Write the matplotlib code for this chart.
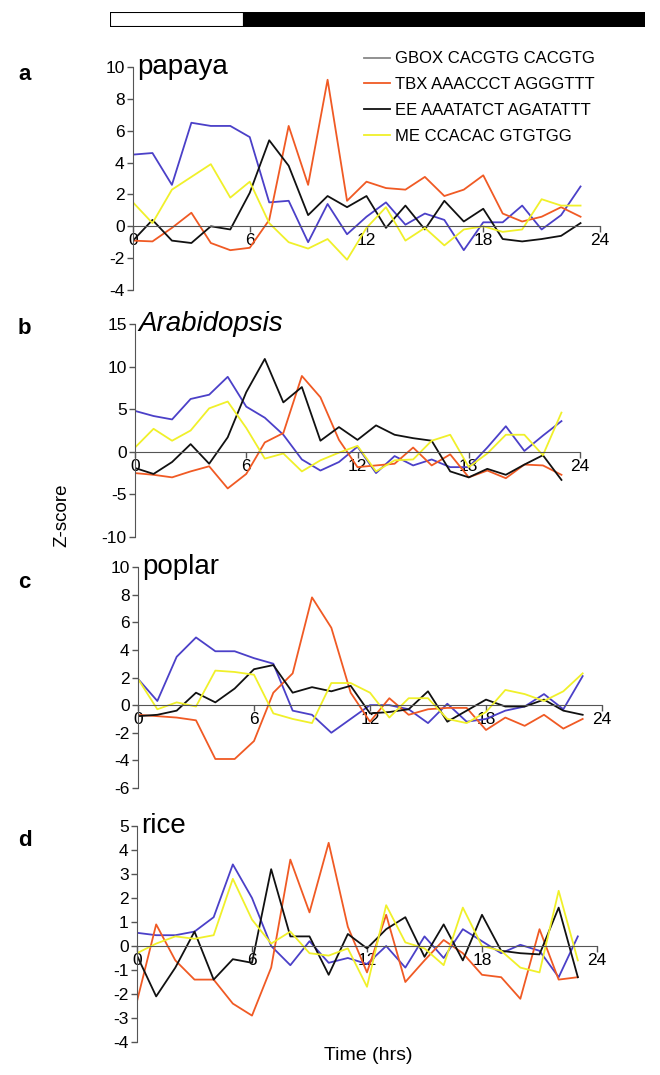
import numpy as np
import matplotlib
matplotlib.use("Agg")
from matplotlib import pyplot as plt
from matplotlib.lines import Line2D

plt.rcParams['font.family'] = ['Liberation Sans', 'DejaVu Sans']
plt.rcParams['axes.unicode_minus'] = False

hours = np.arange(24)
xticks = [0, 6, 12, 18, 24]

motifs = ["GBOX CACGTG CACGTG", "TBX AAACCCT AGGGTTT",
          "EE AAATATCT AGATATTT", "ME CCACAC GTGTGG"]
colors = ['#4b40c8', '#f05a24', '#111111', '#f0f02a']
legend_colors = ['#888888', '#f05a24', '#111111', '#f0f02a']

# papaya
papaya_gbox = [4.5, 4.6, 2.6, 6.5, 6.3, 6.3, 5.6, 1.5, 1.6, -1.0, 1.4, -0.5,
               0.6, 1.5, 0.1, 0.8, 0.4, -1.5, 0.25, 0.25, 1.3, -0.2, 0.7, 2.5]
papaya_tbx = [-0.9, -0.95, -0.1, 0.85, -1.05, -1.5, -1.35, 0.4, 6.3, 2.6, 9.2, 1.6,
              2.8, 2.4, 2.3, 3.1, 1.9, 2.3, 3.2, 0.8, 0.3, 0.6, 1.2, 0.6]
papaya_ee = [-0.9, 0.4, -0.9, -1.05, 0.0, -0.2, 2.1, 5.4, 3.8, 0.7, 1.9, 1.2,
             1.9, -0.1, 1.3, -0.2, 1.6, 0.3, 1.1, -0.8, -0.95, -0.8, -0.6, 0.2]
papaya_me = [1.5, 0.2, 2.3, 3.1, 3.9, 1.8, 2.8, 0.2, -1.0, -1.4, -0.8, -2.1,
             -0.1, 1.2, -0.9, -0.1, -1.2, -0.2, 0.0, -0.35, -0.2, 1.7, 1.3, 1.3]

# Arabidopsis
arab_gbox = [4.8, 4.2, 3.8, 6.2, 6.7, 8.8, 5.3, 4.0, 2.0, -0.9, -2.2, -1.2,
             0.6, -2.5, -0.5, -1.6, -0.9, -1.8, -1.8, 0.5, 3.0, 0.1, 1.9, 3.6]
arab_tbx = [-2.5, -2.7, -3.0, -2.3, -1.7, -4.3, -2.6, 1.1, 2.2, 8.9, 6.4, 1.4,
            -1.8, -1.6, -1.4, 0.5, -1.6, -0.3, -3.0, -2.2, -3.1, -1.5, -1.6, -2.7]
arab_ee = [-1.9, -2.6, -1.2, 0.9, -1.4, 1.7, 7.0, 10.9, 5.8, 7.6, 1.3, 2.9,
           1.4, 3.1, 2.0, 1.6, 1.3, -2.3, -3.0, -2.0, -2.7, -1.5, -0.4, -3.3]
arab_me = [0.5, 2.7, 1.3, 2.5, 5.1, 5.9, 2.8, -0.8, -0.2, -2.3, -1.0, -0.1,
           0.7, -2.3, -1.0, -0.9, 1.3, 2.0, -1.8, -0.2, 2.0, 2.0, -0.4, 4.6]

# poplar
poplar_gbox = [1.9, 0.3, 3.5, 4.9, 3.9, 3.9, 3.4, 3.0, -0.4, -0.7, -2.0, -1.0,
               0.0, 0.0, -0.3, -1.3, 0.1, -1.2, -1.0, -0.4, -0.1, 0.8, -0.3, 2.1]
poplar_tbx = [-0.7, -0.8, -0.9, -1.1, -3.9, -3.9, -2.6, 0.9, 2.3, 7.8, 5.6, 0.9,
              -1.2, 0.5, -0.7, -0.3, -0.2, -0.2, -1.8, -0.9, -1.5, -0.7, -1.7, -1.0]
poplar_ee = [-0.8, -0.7, -0.4, 0.9, 0.2, 1.2, 2.6, 2.9, 0.9, 1.3, 1.0, 1.4,
             -0.6, -0.5, -0.3, 1.0, -1.2, -0.4, 0.4, -0.1, -0.1, 0.4, -0.4, -0.7]
poplar_me = [1.9, -0.3, 0.2, -0.1, 2.5, 2.4, 2.2, -0.6, -1.0, -1.3, 1.6, 1.6,
             0.9, -0.9, 0.5, 0.5, -1.0, -1.3, -0.5, 1.1, 0.8, 0.3, 1.0, 2.3]

# rice
rice_gbox = [0.55, 0.45, 0.45, 0.6, 1.2, 3.4, 2.0, 0.0, -0.8, 0.2, -0.7, -0.5,
             -0.75, 0.0, -0.9, 0.4, -0.5, 0.7, 0.2, -0.3, 0.05, -0.2, -1.3, 0.4]
rice_tbx = [-2.3, 0.9, -0.6, -1.4, -1.4, -2.4, -2.9, -0.9, 3.6, 1.4, 4.3, 0.8,
            -1.1, 1.3, -1.5, -0.6, 0.25, -0.3, -1.2, -1.3, -2.2, 0.7, -1.4, -1.3]
rice_ee = [-0.4, -2.1, -0.9, 0.6, -1.4, -0.55, -0.7, 3.2, 0.4, 0.4, -1.2, 0.5,
           -0.1, 0.7, 1.2, -0.45, 0.9, -0.6, 1.3, -0.2, -0.3, -0.35, 1.6, -1.3]
rice_me = [-0.3, 0.1, 0.4, 0.3, 0.45, 2.8, 1.1, 0.1, 0.6, -0.3, -0.4, -0.1,
           -1.7, 1.7, 0.15, -0.1, -0.8, 1.6, 0.0, -0.2, -0.9, -1.1, 2.3, -0.6]

species = ["papaya", "Arabidopsis", "poplar", "rice"]
letters = ["a", "b", "c", "d"]
series = [
    [papaya_gbox, papaya_tbx, papaya_ee, papaya_me],
    [arab_gbox, arab_tbx, arab_ee, arab_me],
    [poplar_gbox, poplar_tbx, poplar_ee, poplar_me],
    [rice_gbox, rice_tbx, rice_ee, rice_me],
]
ylims = [(-4, 10), (-10, 15), (-6, 10), (-4, 5)]
ysteps = [2, 5, 2, 1]

W, H = 660, 1075
fig = plt.figure(figsize=(W / 100, H / 100), dpi=100)

# axes boxes in pixels: left, right, top, bottom
boxes = [(133, 600, 67, 290), (135, 580, 324, 537),
         (138, 602, 567, 788), (137, 597, 826, 1042)]
label_y = [75, 328, 582, 840]

axcol = '#555555'
for k in range(4):
    l, r, t, b = boxes[k]
    ax = fig.add_axes([l / W, 1 - b / H, (r - l) / W, (b - t) / H])
    for s in range(4):
        ax.plot(hours, series[k][s], color=colors[s], lw=1.3)
    ax.set_xlim(0, 24)
    ax.set_ylim(*ylims[k])
    ax.set_yticks(np.arange(ylims[k][0], ylims[k][1] + 0.1, ysteps[k]))
    ax.set_xticks(xticks)
    ax.spines['top'].set_visible(False)
    ax.spines['right'].set_visible(False)
    ax.spines['bottom'].set_position(('data', 0))
    ax.spines['bottom'].set_color(axcol)
    ax.spines['left'].set_color(axcol)
    ax.tick_params(axis='both', colors=axcol, labelcolor='black', labelsize=12.5,
                   length=4, width=1)
    ax.tick_params(axis='x', pad=1)
    ax.tick_params(axis='y', pad=2)
    ax.patch.set_alpha(0)
    style = 'italic' if species[k] == "Arabidopsis" else 'normal'
    ax.text(0.2, ylims[k][1], species[k], fontsize=20, style=style,
            va='center', ha='left')
    fig.text(18 / W, 1 - label_y[k] / H, letters[k], fontsize=16,
             fontweight='bold', va='center', ha='left')
    if k == 0:
        handles = [Line2D([0], [0], color=c, lw=1.3) for c in legend_colors]
        ax.legend(handles, motifs, loc='upper left', bbox_to_anchor=(0.48, 1.1),
                  frameon=False, fontsize=12, handlelength=1.6,
                  handletextpad=0.3, labelspacing=0.65, borderaxespad=0)

fig.text(62 / W, 1 - 515 / H, "Z-score", rotation=90, fontsize=13.5,
         va='center', ha='center')
fig.text(368 / W, 1 - 1056 / H, "Time (hrs)", fontsize=14,
         va='center', ha='center')

# light / dark bar
phase_len = [6, 18]
phase_col = ['white', 'black']
bax = fig.add_axes([110 / W, 1 - 27 / H, (645 - 110) / W, 15 / H])
left = 0
for n, c in zip(phase_len, phase_col):
    bax.barh(0, n, left=left, height=1, color=c, edgecolor='black', lw=1.5)
    left += n
bax.set_xlim(0, 24)
bax.set_ylim(-0.5, 0.5)
bax.axis('off')

fig.savefig("out.png", dpi=100)
